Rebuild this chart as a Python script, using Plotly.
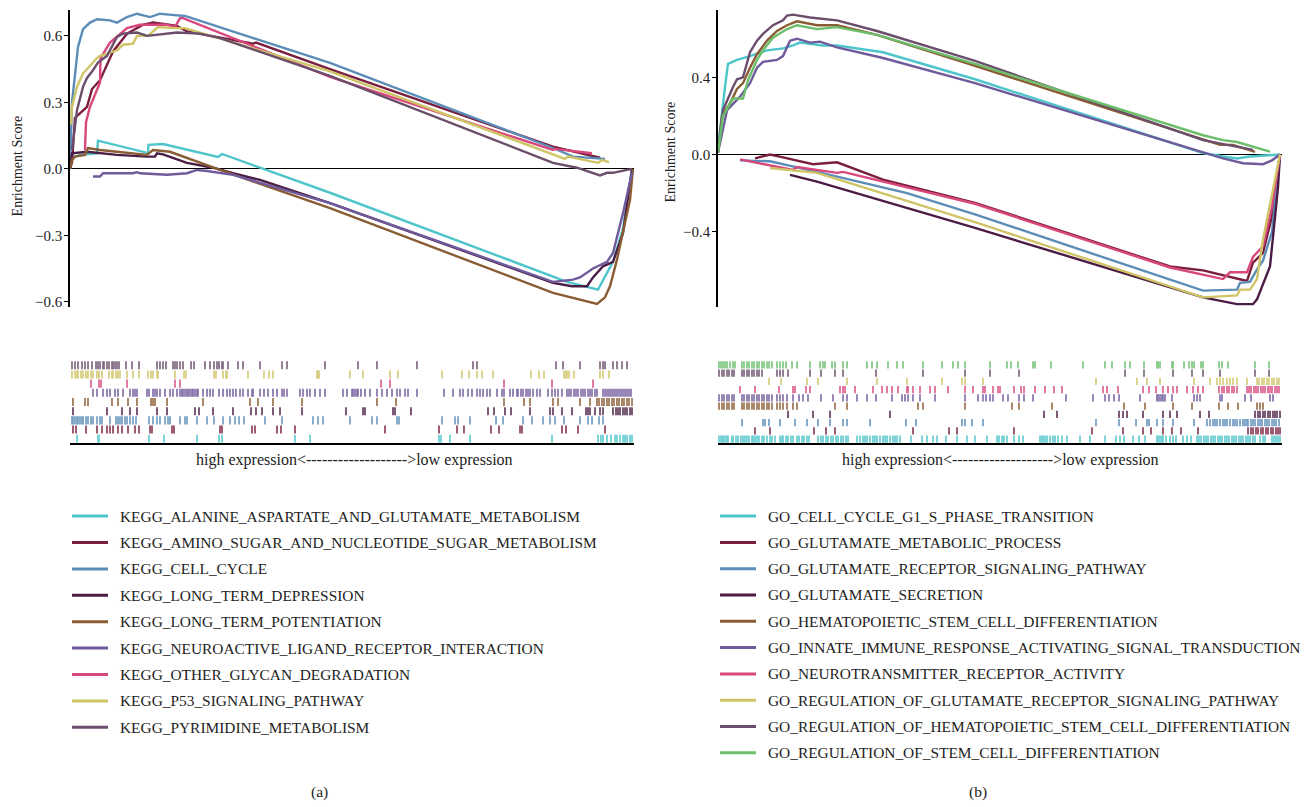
import plotly.graph_objects as go

W, H = 1307, 807
FONT = "Liberation Serif, Times New Roman, serif"

# ---------------- KEGG gene sets (panel a) ----------------
KEGG_SETS = [
    "KEGG_ALANINE_ASPARTATE_AND_GLUTAMATE_METABOLISM",
    "KEGG_AMINO_SUGAR_AND_NUCLEOTIDE_SUGAR_METABOLISM",
    "KEGG_CELL_CYCLE",
    "KEGG_LONG_TERM_DEPRESSION",
    "KEGG_LONG_TERM_POTENTIATION",
    "KEGG_NEUROACTIVE_LIGAND_RECEPTOR_INTERACTION",
    "KEGG_OTHER_GLYCAN_DEGRADATION",
    "KEGG_P53_SIGNALING_PATHWAY",
    "KEGG_PYRIMIDINE_METABOLISM",
]
KEGG_COLORS = ["#4EC5CB", "#7A1F3D", "#5B8DB8", "#4B1D45", "#8A5C33",
               "#6F5B9C", "#D8477D", "#CFC466", "#6B4E6C"]

# running enrichment score: gene rank position / score
KEGG_RANK = [
    [0, 2, 10, 27, 28, 78, 78.5, 93, 148, 152, 260, 497, 528, 543, 553, 562],
    [0, 2, 5, 17, 22, 30, 37, 43, 57, 73, 83, 107, 117, 183, 186, 260, 483, 530],
    [0, 2, 8, 13, 20, 27, 40, 47, 57, 67, 80, 90, 102, 115, 260, 483, 503, 535],
    [0, 2, 17, 30, 47, 77, 85, 87, 93, 117, 130, 143, 163, 190, 260, 483, 502, 517,
     523, 533, 543, 553, 562],
    [0, 2, 5, 15, 18, 30, 47, 77, 83, 100, 150, 260, 483, 527, 535, 540, 547, 553, 560, 563],
    [23, 30, 33, 63, 67, 70, 97, 117, 127, 137, 163, 260, 483, 503, 510, 523, 537, 543, 553, 562],
    [15, 16, 20, 30, 30.5, 40, 57, 70, 97, 105, 110, 113, 260, 483, 485, 522],
    [1, 2, 7, 13, 27, 30, 47, 53, 63, 67, 78, 88, 103, 115, 260, 483, 495, 498, 528, 532, 539],
    [2, 7, 13, 17, 23, 28, 37, 47, 53, 67, 77, 97, 107, 130, 150, 260, 483, 507, 530,
     537, 543, 557, 562],
]
KEGG_ES = [
    [0.0, 0.05, 0.063, 0.07, 0.127, 0.071, 0.108, 0.112, 0.054, 0.067, -0.108, -0.51,
     -0.545, -0.42, -0.27, 0.0],
    [0.0, 0.03, 0.23, 0.28, 0.36, 0.40, 0.47, 0.53, 0.61, 0.65, 0.66, 0.645, 0.62,
     0.565, 0.57, 0.45, 0.10, 0.05],
    [0.0, 0.3, 0.55, 0.63, 0.66, 0.675, 0.67, 0.66, 0.685, 0.70, 0.685, 0.70, 0.695,
     0.69, 0.478, 0.094, 0.055, 0.045],
    [0.0, 0.07, 0.077, 0.07, 0.063, 0.055, 0.055, 0.07, 0.065, 0.027, 0.015, 0.005,
     -0.02, -0.05, -0.155, -0.515, -0.53, -0.53, -0.49, -0.44, -0.42, -0.29, 0.0],
    [0.0, 0.04, 0.055, 0.063, 0.094, 0.085, 0.077, 0.063, 0.085, 0.077, -0.005,
     -0.177, -0.56, -0.61, -0.58, -0.53, -0.41, -0.29, -0.14, 0.0],
    [-0.035, -0.035, -0.02, -0.02, -0.015, -0.02, -0.027, -0.02, -0.005, -0.01,
     -0.027, -0.155, -0.51, -0.5, -0.49, -0.45, -0.42, -0.38, -0.2, -0.015],
    [0.085, 0.21, 0.28, 0.39, 0.5, 0.57, 0.635, 0.65, 0.65, 0.64, 0.68, 0.68, 0.415,
     0.085, 0.09, 0.07],
    [0.2, 0.28, 0.37, 0.43, 0.50, 0.51, 0.535, 0.56, 0.565, 0.60, 0.60, 0.64, 0.635,
     0.635, 0.44, 0.068, 0.045, 0.055, 0.027, 0.04, 0.03],
    [0.085, 0.265, 0.37, 0.41, 0.445, 0.48, 0.51, 0.595, 0.61, 0.615, 0.60, 0.61,
     0.615, 0.61, 0.59, 0.42, 0.027, 0.005, -0.03, -0.018, -0.018, -0.005, 0.0],
]
# gene set member positions along the ranked list
KEGG_HITS = [
    [7, 28, 29, 79, 94, 127, 149, 152, 225, 240, 369, 371, 380, 400, 482, 528, 531,
     533, 537, 541, 545, 547, 550, 553, 555, 557, 560, 562],
    [3, 6, 16, 27, 32, 37, 40, 43, 48, 52, 58, 65, 69, 80, 82, 102, 104, 150, 152, 182,
     185, 207, 211, 225, 315, 369, 387, 394, 421, 429, 450, 452, 492, 496, 508, 535],
    [2, 3, 5, 7, 8, 10, 12, 13, 16, 18, 21, 23, 27, 30, 32, 40, 46, 48, 50, 52, 55, 57,
     60, 63, 66, 79, 83, 87, 90, 95, 98, 100, 110, 115, 117, 127, 137, 144, 153, 160,
     165, 169, 174, 195, 212, 243, 248, 253, 280, 302, 307, 327, 329, 372, 385, 388,
     400, 426, 433, 453, 462, 473, 480, 485, 494, 510, 518, 522, 529, 533],
    [3, 37, 52, 60, 67, 87, 97, 125, 129, 143, 163, 181, 186, 192, 203, 210, 232, 276,
     293, 295, 323, 325, 341, 418, 424, 435, 441, 460, 480, 483, 492, 502, 516, 518,
     520, 525, 530, 533, 543, 546, 548, 550, 553, 555, 557, 560, 562],
    [3, 15, 18, 42, 48, 58, 67, 81, 83, 85, 97, 133, 180, 188, 203, 232, 307, 326, 434,
     454, 460, 483, 488, 510, 520, 527, 529, 532, 534, 537, 539, 542, 544, 547, 549,
     552, 554, 557, 559, 562],
    [23, 27, 33, 37, 40, 45, 48, 53, 60, 63, 65, 67, 77, 79, 83, 85, 87, 90, 95, 100,
     103, 107, 110, 112, 113, 115, 117, 118, 120, 122, 123, 125, 127, 128, 133, 137,
     140, 143, 149, 153, 157, 160, 163, 166, 170, 173, 178, 182, 183, 190, 194, 198,
     203, 207, 212, 214, 217, 230, 233, 237, 240, 245, 250, 255, 273, 277, 282, 283,
     285, 287, 288, 291, 295, 300, 307, 312, 317, 322, 327, 330, 335, 338, 347, 374,
     383, 390, 393, 398, 402, 407, 410, 413, 417, 420, 427, 432, 434, 440, 443, 447,
     448, 451, 453, 456, 458, 460, 463, 467, 470, 478, 482, 485, 488, 492, 497, 499,
     501, 504, 506, 508, 511, 513, 515, 518, 520, 522, 525, 527, 533, 535, 537, 539,
     541, 543, 545, 547, 549, 551, 553, 555, 557, 559, 561],
    [21, 29, 31, 57, 105, 110, 311, 320, 434, 482, 523],
    [2, 5, 7, 8, 11, 13, 16, 18, 21, 23, 27, 29, 32, 39, 42, 43, 46, 48, 50, 57, 63, 69,
     78, 81, 83, 87, 88, 105, 114, 116, 144, 146, 153, 156, 157, 178, 194, 199, 203,
     247, 248, 249, 280, 293, 320, 328, 372, 392, 399, 407, 412, 423, 461, 469, 474,
     494, 496, 497, 499, 504, 530, 533, 539],
    [2, 5, 8, 12, 15, 18, 22, 26, 28, 30, 33, 34, 37, 39, 42, 43, 45, 47, 49, 56, 62,
     69, 87, 90, 93, 96, 103, 105, 107, 110, 113, 121, 124, 135, 140, 144, 147, 149,
     152, 153, 158, 168, 173, 190, 212, 217, 255, 288, 307, 347, 403, 407, 486, 493,
     510, 530, 533, 535, 543, 547, 552, 557],
]

# ---------------- GO gene sets (panel b) ----------------
GO_SETS = [
    "GO_CELL_CYCLE_G1_S_PHASE_TRANSITION",
    "GO_GLUTAMATE_METABOLIC_PROCESS",
    "GO_GLUTAMATE_RECEPTOR_SIGNALING_PATHWAY",
    "GO_GLUTAMATE_SECRETION",
    "GO_HEMATOPOIETIC_STEM_CELL_DIFFERENTIATION",
    "GO_INNATE_IMMUNE_RESPONSE_ACTIVATING_SIGNAL_TRANSDUCTION",
    "GO_NEUROTRANSMITTER_RECEPTOR_ACTIVITY",
    "GO_REGULATION_OF_GLUTAMATE_RECEPTOR_SIGNALING_PATHWAY",
    "GO_REGULATION_OF_HEMATOPOIETIC_STEM_CELL_DIFFERENTIATION",
    "GO_REGULATION_OF_STEM_CELL_DIFFERENTIATION",
]
GO_COLORS = ["#4EC5CB", "#7A1F3D", "#5B8DB8", "#4B1D45", "#8A5C33",
             "#6F5B9C", "#D8477D", "#CFC466", "#6B4E6C", "#6CBF6A"]

GO_RANK = [
    [0, 4, 7, 10, 19, 32, 49, 65, 75, 82, 92, 105, 119, 165, 257, 485, 505, 519, 532, 562],
    [37, 52, 65, 95, 119, 165, 257, 452, 485, 529, 535, 545, 554, 562],
    [22, 52, 99, 189, 257, 485, 519, 522, 532, 539, 545, 554, 562],
    [72, 99, 257, 485, 519, 535, 539, 552, 560, 562],
    [0, 4, 12, 19, 25, 32, 39, 49, 59, 69, 79, 99, 119, 159, 257, 485, 502, 515, 537],
    [0, 9, 22, 32, 39, 45, 59, 65, 72, 79, 92, 102, 119, 165, 257, 485, 505, 525, 545,
     554, 562],
    [22, 75, 79, 119, 125, 257, 452, 505, 512, 529, 535, 545, 554, 562],
    [52, 99, 257, 485, 519, 522, 532, 539, 545, 555, 562],
    [0, 5, 15, 19, 25, 32, 39, 45, 55, 65, 69, 75, 92, 119, 159, 257, 485, 535],
    [0, 5, 15, 25, 30, 39, 45, 55, 69, 79, 99, 119, 159, 257, 485, 505, 519, 552],
]
GO_ES = [
    [0.04, 0.23, 0.35, 0.47, 0.49, 0.51, 0.54, 0.55, 0.565, 0.58, 0.575, 0.565, 0.565,
     0.53, 0.39, 0.008, -0.01, -0.02, -0.01, 0.0],
    [-0.02, 0.0, -0.015, -0.05, -0.04, -0.13, -0.25, -0.58, -0.60, -0.655, -0.56,
     -0.51, -0.32, 0.0],
    [-0.03, -0.035, -0.09, -0.2, -0.31, -0.705, -0.70, -0.665, -0.66, -0.595, -0.55,
     -0.40, 0.0],
    [-0.105, -0.14, -0.38, -0.74, -0.775, -0.775, -0.75, -0.58, -0.17, 0.0],
    [0.01, 0.2, 0.265, 0.34, 0.37, 0.45, 0.52, 0.59, 0.64, 0.67, 0.69, 0.67, 0.67,
     0.62, 0.46, 0.075, 0.05, 0.05, 0.014],
    [0.01, 0.23, 0.30, 0.37, 0.45, 0.48, 0.49, 0.51, 0.59, 0.60, 0.58, 0.585, 0.555,
     0.50, 0.37, 0.008, -0.02, -0.045, -0.05, -0.03, 0.0],
    [-0.025, -0.08, -0.065, -0.095, -0.09, -0.255, -0.585, -0.645, -0.61, -0.61,
     -0.53, -0.475, -0.27, 0.0],
    [-0.07, -0.095, -0.35, -0.74, -0.73, -0.70, -0.70, -0.645, -0.44, -0.17, 0.0],
    [0.01, 0.23, 0.35, 0.39, 0.40, 0.53, 0.59, 0.625, 0.67, 0.695, 0.72, 0.725, 0.71,
     0.695, 0.64, 0.485, 0.075, 0.024],
    [0.01, 0.2, 0.29, 0.29, 0.385, 0.49, 0.54, 0.605, 0.65, 0.67, 0.65, 0.66, 0.62,
     0.47, 0.10, 0.075, 0.065, 0.015],
]
GO_HITS = [
    [0, 2, 4, 5, 7, 9, 10, 14, 15, 18, 20, 23, 25, 27, 29, 31, 34, 35, 37, 39, 41, 44,
     46, 49, 52, 54, 57, 62, 64, 65, 68, 70, 73, 75, 79, 81, 84, 86, 89, 91, 100, 103,
     105, 108, 110, 113, 115, 118, 120, 123, 125, 128, 130, 139, 142, 145, 147, 149,
     152, 155, 157, 159, 162, 165, 167, 169, 172, 175, 177, 179, 182, 193, 204, 209,
     215, 219, 228, 239, 249, 257, 269, 279, 281, 284, 286, 289, 296, 301, 305, 322,
     324, 325, 327, 329, 332, 335, 337, 340, 344, 349, 362, 372, 387, 398, 402, 406,
     415, 421, 427, 439, 440, 442, 444, 445, 448, 452, 455, 458, 465, 469, 473, 479,
     481, 483, 486, 488, 490, 493, 495, 497, 500, 502, 504, 507, 509, 511, 514, 516,
     518, 521, 523, 525, 528, 530, 532, 535, 537, 542, 545, 547, 554, 556, 558, 560,
     562],
    [37, 52, 96, 108, 117, 195, 231, 239, 296, 374, 405, 425, 433, 445, 454, 463, 480,
     530, 533, 535, 538, 540, 543, 545, 548, 550, 553, 555, 558, 560, 562],
    [24, 45, 47, 51, 62, 77, 89, 100, 112, 125, 129, 152, 188, 198, 244, 247, 254, 265,
     378, 401, 418, 429, 431, 439, 445, 455, 476, 489, 492, 495, 497, 499, 502, 505,
     507, 509, 512, 515, 517, 519, 522, 525, 527, 529, 530, 533, 535, 537, 540, 542,
     544, 547, 549, 551, 554, 556, 558, 561],
    [70, 95, 112, 172, 326, 339, 401, 405, 409, 425, 445, 452, 459, 482, 491, 537, 540,
     542, 545, 547, 550, 552, 555, 557, 559, 562],
    [1, 4, 6, 9, 11, 14, 16, 24, 26, 29, 31, 34, 36, 39, 41, 44, 46, 49, 51, 54, 59, 62,
     65, 69, 75, 79, 117, 129, 200, 205, 247, 294, 301, 334, 406, 427, 455, 474, 501,
     510, 520, 539, 542, 545],
    [1, 4, 6, 9, 11, 14, 16, 24, 26, 29, 31, 34, 36, 39, 41, 44, 46, 49, 51, 54, 59, 62,
     65, 69, 75, 81, 85, 90, 103, 115, 125, 129, 139, 149, 158, 174, 184, 187, 190,
     195, 202, 217, 247, 260, 265, 268, 272, 275, 285, 290, 301, 306, 315, 348, 375,
     387, 391, 396, 401, 422, 439, 440, 442, 444, 445, 447, 454, 476, 479, 482, 502,
     504, 527, 533, 552, 555],
    [22, 37, 61, 75, 77, 88, 92, 122, 125, 127, 137, 155, 164, 169, 174, 180, 189, 190,
     195, 202, 212, 217, 230, 247, 255, 265, 267, 275, 280, 282, 296, 303, 306, 317,
     327, 336, 344, 385, 389, 400, 425, 431, 438, 445, 450, 455, 459, 469, 475, 480,
     485, 501, 504, 506, 509, 511, 514, 516, 519, 529, 531, 533, 536, 538, 540, 543,
     545, 547, 550, 552, 554, 557, 559, 561],
    [51, 63, 89, 100, 129, 159, 189, 224, 244, 247, 265, 378, 419, 429, 442, 476, 492,
     499, 502, 505, 509, 512, 515, 519, 529, 539, 541, 544, 546, 549, 551, 554, 556,
     559, 561],
    [1, 4, 6, 9, 11, 14, 16, 24, 26, 29, 31, 34, 36, 39, 41, 44, 59, 62, 65, 70, 92,
     103, 117, 125, 158, 205, 247, 272, 301, 407, 426, 455, 474, 485, 502, 537, 551],
    [1, 3, 5, 7, 9, 12, 15, 17, 24, 26, 29, 31, 34, 36, 39, 41, 44, 46, 49, 51, 54, 59,
     62, 65, 68, 74, 79, 92, 102, 105, 107, 114, 117, 125, 129, 149, 154, 159, 170,
     179, 185, 205, 224, 235, 240, 247, 272, 289, 293, 300, 315, 317, 333, 365, 387,
     394, 407, 412, 426, 439, 440, 442, 454, 455, 466, 471, 474, 476, 483, 485, 501,
     504, 510, 537, 551],
]

KEGG_TICKS = [-0.6, -0.3, 0.0, 0.3, 0.6]
GO_TICKS = [-0.4, 0.0, 0.4]
RANK_MAX = 564
RUG_LABEL = "high expression<" + "-" * 19 + ">low expression"


def px_x(p):
    return p / W


def px_y(p):
    return 1 - p / H


fig = go.Figure()


def add_panel(sets, colors, ranks, scores, hits, xa_es, ya_es, xa_rug, ya_rug):
    for name, col, r, s in zip(sets, colors, ranks, scores):
        fig.add_trace(go.Scatter(
            x=r, y=s, mode="lines", name=name, showlegend=False,
            line=dict(color=col, width=2.4), xaxis=xa_es, yaxis=ya_es,
            hoverinfo="skip"))
    for i, (name, col, h) in enumerate(zip(sets, colors, hits)):
        xs, ys = [], []
        for p in h:
            xs += [p, p, None]
            ys += [i + 0.06, i + 0.94, None]
        fig.add_trace(go.Scatter(
            x=xs, y=ys, mode="lines", name=name, showlegend=False,
            line=dict(color=col, width=1.7), opacity=0.85,
            xaxis=xa_rug, yaxis=ya_rug, hoverinfo="skip"))


add_panel(KEGG_SETS, KEGG_COLORS, KEGG_RANK, KEGG_ES, KEGG_HITS, "x", "y", "x2", "y2")
add_panel(GO_SETS, GO_COLORS, GO_RANK, GO_ES, GO_HITS, "x3", "y3", "x4", "y4")

TEXT_COLOR = "#222"
tick_font = dict(family=FONT, size=15, color=TEXT_COLOR)
es_dom = [px_y(308), px_y(10)]
rug_dom = [px_y(445), px_y(362)]
dom_a = [px_x(70), px_x(70 + RANK_MAX)]
dom_b = [px_x(718), px_x(718 + RANK_MAX)]


def es_yaxis(anchor, rng, ticks):
    return dict(domain=es_dom, anchor=anchor, range=rng, tickvals=ticks,
                tickformat=".1f", showline=True, linecolor="black", linewidth=1.5,
                ticks="outside", ticklen=4, tickwidth=1.2, tickcolor="black",
                showgrid=False, zeroline=True, zerolinecolor="black",
                zerolinewidth=1.2, tickfont=tick_font, ticklabelstandoff=-1)


def hidden_x(dom, anchor):
    return dict(domain=dom, anchor=anchor, range=[0, RANK_MAX], visible=False)


def rug_x(dom, anchor):
    return dict(domain=dom, anchor=anchor, range=[0, RANK_MAX], showline=True,
                linecolor="black", linewidth=2, showticklabels=False, ticks="",
                showgrid=False, zeroline=False)


def rug_y(anchor, n):
    return dict(domain=rug_dom, anchor=anchor, range=[0, n], visible=False)


fig.update_layout(
    width=W, height=H, margin=dict(l=0, r=0, t=0, b=0),
    paper_bgcolor="white", plot_bgcolor="white",
    font=dict(family=FONT, size=15, color=TEXT_COLOR),
    xaxis=hidden_x(dom_a, "y"),
    yaxis=es_yaxis("x", [-0.623, 0.717], KEGG_TICKS),
    xaxis2=rug_x(dom_a, "y2"),
    yaxis2=rug_y("x2", len(KEGG_SETS)),
    xaxis3=hidden_x(dom_b, "y3"),
    yaxis3=es_yaxis("x3", [-0.789, 0.749], GO_TICKS),
    xaxis4=rug_x(dom_b, "y4"),
    yaxis4=rug_y("x4", len(GO_SETS)),
)

annotations = []
shapes = []


def text_at(x, y, text, size, xanchor="center", angle=0):
    annotations.append(dict(x=px_x(x), y=px_y(y), xref="paper", yref="paper",
                            text=text, showarrow=False, xanchor=xanchor,
                            yanchor="middle", textangle=angle,
                            font=dict(family=FONT, size=size, color=TEXT_COLOR)))


# axis titles and rank labels
text_at(17, 167, "Enrichment Score", 14, angle=-90)
text_at(670, 153, "Enrichment Score", 14, angle=-90)
for xc in (354, 1001):
    text_at(xc, 462, RUG_LABEL, 16)


# gene set keys
def add_key(sets, colors, x_line, x_text, y0, step):
    for i, (name, col) in enumerate(zip(sets, colors)):
        yy = y0 + i * step
        shapes.append(dict(type="line", xref="paper", yref="paper",
                           x0=px_x(x_line), x1=px_x(x_line + 36),
                           y0=px_y(yy), y1=px_y(yy),
                           line=dict(color=col, width=3)))
        text_at(x_text, yy, name, 15.4, xanchor="left")


add_key(KEGG_SETS, KEGG_COLORS, 72, 118, 518, 26.5)
add_key(GO_SETS, GO_COLORS, 720, 766, 518, 26.4)

text_at(319, 795, "(a)", 15.5)
text_at(978, 795, "(b)", 15.5)

fig.update_layout(annotations=annotations, shapes=shapes)
fig.write_html("out.html")
